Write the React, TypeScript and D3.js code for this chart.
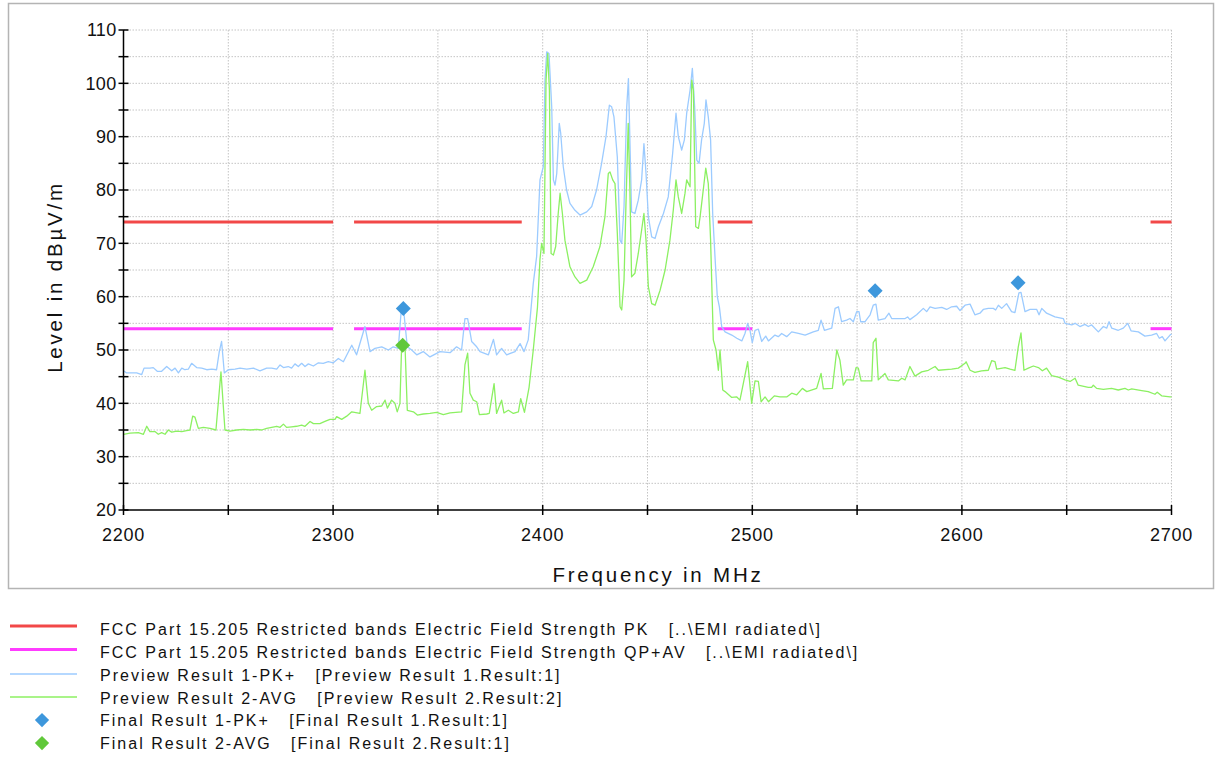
import React from "react"
import * as d3 from "d3"

// axis labels
const freqLabels = [2200, 2300, 2400, 2500, 2600, 2700]
const levelLabels = [20, 30, 40, 50, 60, 70, 80, 90, 100, 110]

// FCC 15.205 restricted bands inside the sweep
const restrictedBands = [[2200, 2300], [2310, 2390], [2483.5, 2500], [2690, 2700]]
const pkLimitLevel = 74
const avLimitLevel = 54

// Preview Result 1-PK+ (MHz, dBuV/m)
const pkPreview = [
  [2200, 46.1], [2201.5, 45.7], [2206.3, 45.7], [2208.7, 45.4], [2209.8, 46.6], [2212.6, 46.6],
  [2214.2, 46.7], [2216.1, 46.0], [2218.2, 46.0], [2220.6, 46.9], [2223, 46.1], [2224.6, 46.6],
  [2226.2, 45.7], [2227.8, 46.6], [2229.3, 46.3], [2230.9, 46.4], [2232.5, 47.5], [2234.9, 46.7],
  [2237.3, 46.6], [2239.7, 46.3], [2242.1, 46.4], [2244.4, 46.3], [2245.7, 49.7], [2246.8, 51.6],
  [2248.1, 45.7], [2250, 46.3], [2253.2, 46.4], [2255.6, 46.6], [2258.8, 46.4], [2262, 46.6],
  [2265.1, 46.1], [2268.3, 46.6], [2270.7, 46.6], [2273.1, 46.4], [2274.7, 47.2], [2276.3, 46.7],
  [2278.6, 46.9], [2280.2, 46.6], [2281.8, 47.4], [2283.4, 46.9], [2285, 47.5], [2286.6, 46.9],
  [2288.2, 47.4], [2290.6, 47.0], [2293, 47.6], [2295.3, 47.5], [2297.7, 47.8], [2300.1, 47.6],
  [2302.5, 48.4], [2304.9, 47.8], [2308.9, 50.9], [2311.2, 49.1], [2315.2, 54.4], [2317.6, 49.7],
  [2320, 50.3], [2323.2, 50.6], [2326.4, 50.0], [2328.7, 50.6], [2331.1, 50.3], [2332.4, 56.9],
  [2333.8, 56.9], [2335.4, 50.6], [2337.5, 50.0], [2339.9, 49.1], [2343, 49.7], [2346.2, 48.7],
  [2351, 49.7], [2355.8, 49.5], [2358.9, 50.6], [2361.3, 50.0], [2362.9, 55.9], [2364.2, 55.9],
  [2366.1, 51.6], [2368.5, 50.6], [2370.1, 49.7], [2374.1, 49.1], [2376.5, 52.0], [2378, 49.1],
  [2380.4, 50.3], [2382.8, 49.1], [2386.8, 49.7], [2389.2, 51.2], [2391.1, 49.7], [2393.1, 51.9],
  [2395.5, 62.5], [2397.1, 67.5], [2398.7, 81.9], [2400.3, 84.4], [2401.1, 100.6], [2401.9, 105.9],
  [2403, 105.6], [2404.3, 95.6], [2405.1, 81.9], [2405.9, 80.9], [2406.7, 83.1], [2407.9, 92.5],
  [2408.6, 90.6], [2409.8, 84.4], [2411.4, 80.0], [2413, 77.5], [2415.4, 76.2], [2417.8, 75.3],
  [2421, 75.9], [2423.4, 76.9], [2425.7, 80.0], [2428.1, 85.0], [2430.2, 90.0], [2431.8, 95.9],
  [2432.9, 95.6], [2434, 93.7], [2435.6, 86.2], [2436.9, 70.6], [2437.7, 70.0], [2438.8, 76.9],
  [2440.1, 95.6], [2440.9, 100.9], [2441.6, 89.4], [2442.4, 75.9], [2444, 75.6], [2445.6, 78.1],
  [2447.2, 81.9], [2448.3, 88.7], [2449.3, 83.1], [2450.4, 75.0], [2452, 71.2], [2453.6, 70.9],
  [2455.2, 73.1], [2457.6, 75.6], [2459.9, 78.7], [2462, 86.9], [2463.6, 94.4], [2464.7, 90.0],
  [2466.3, 87.5], [2467.6, 89.4], [2468.7, 94.4], [2470.3, 98.7], [2471.4, 102.8], [2472.5, 95.6],
  [2473.5, 85.6], [2474.6, 85.0], [2475.8, 89.4], [2477.1, 92.5], [2477.9, 96.9], [2479, 93.7],
  [2480.1, 89.4], [2481.1, 75.6], [2482.2, 67.5], [2483.3, 60.0], [2484.3, 58.1], [2485.4, 54.4],
  [2487, 53.4], [2490.2, 52.8], [2492.6, 52.2], [2495, 51.7], [2496.5, 53.1], [2497.8, 55.0],
  [2498.9, 53.7], [2500, 51.4], [2501.3, 53.7], [2502.9, 53.9], [2504.5, 51.6], [2506.4, 52.6],
  [2507.7, 51.7], [2510.8, 52.8], [2512.4, 52.5], [2514, 53.1], [2516.4, 52.5], [2518.8, 53.4],
  [2522, 53.1], [2525.2, 52.8], [2529.1, 53.4], [2531.5, 53.7], [2532.8, 55.6], [2534.4, 53.7],
  [2537.9, 54.1], [2539.5, 57.8], [2541.1, 58.1], [2542.6, 55.3], [2545, 55.6], [2546.6, 55.9],
  [2548.2, 55.3], [2549.8, 57.2], [2550.9, 57.2], [2551.7, 55.3], [2553.8, 55.3], [2556.2, 56.6],
  [2557.7, 58.4], [2559, 58.6], [2560.1, 55.6], [2563.3, 55.9], [2565.2, 56.9], [2566.5, 55.9],
  [2572.9, 55.9], [2574.1, 56.2], [2575.2, 55.7], [2578.4, 56.6], [2581.6, 57.8], [2583.2, 57.2],
  [2584.8, 58.1], [2587.2, 57.8], [2590.4, 58.0], [2592.7, 57.6], [2595.1, 58.1], [2597.5, 58.2],
  [2599.1, 57.4], [2601.5, 58.4], [2603.9, 58.6], [2606.2, 56.6], [2608.6, 56.9], [2610.2, 57.6],
  [2612.6, 57.8], [2615, 57.8], [2616.1, 57.5], [2617.4, 58.4], [2619, 57.8], [2621.3, 58.7],
  [2623.7, 57.2], [2625.3, 57.0], [2627.2, 60.7], [2628.2, 60.8], [2630.1, 57.2], [2632.5, 57.6],
  [2635.7, 57.6], [2636.8, 56.6], [2638.1, 57.8], [2640.4, 56.9], [2644.4, 56.2], [2648.4, 55.9],
  [2649.2, 55.0], [2652.4, 54.7], [2654, 55.0], [2656.3, 54.4], [2658.7, 54.8], [2660.3, 54.4],
  [2661.9, 54.7], [2665.1, 53.4], [2667.5, 54.4], [2669.1, 54.1], [2670.2, 55.3], [2671.5, 54.1],
  [2674.6, 53.7], [2677, 54.1], [2679.1, 55.0], [2680.7, 53.6], [2684.2, 53.4], [2687.3, 52.6],
  [2690.5, 52.8], [2692.9, 53.1], [2694.2, 52.2], [2695.6, 52.5], [2696.9, 51.7], [2699.3, 52.8],
  [2700, 53.0],
]

// Preview Result 2-AVG
const avgPreview = [
  [2200, 34.2], [2203.1, 34.4], [2207.1, 34.5], [2209.5, 34.2], [2211.1, 35.7], [2212.6, 34.7],
  [2215, 34.7], [2216.6, 34.2], [2218.2, 34.5], [2219.8, 34.2], [2221.4, 35.0], [2223, 34.6],
  [2225.4, 34.8], [2227.8, 34.7], [2230.1, 34.9], [2231.7, 35.0], [2233, 37.6], [2234.1, 37.4],
  [2235.7, 35.3], [2238.1, 35.5], [2241.3, 35.3], [2244.1, 35.0], [2246.5, 45.9], [2248.4, 35.0],
  [2250.8, 34.8], [2254, 35.0], [2257.2, 35.1], [2260.4, 35.0], [2263.5, 35.1], [2265.9, 35.0],
  [2268.3, 35.3], [2270.7, 35.5], [2273.1, 35.7], [2274.7, 35.5], [2276.3, 36.1], [2277.8, 35.5],
  [2280.2, 35.6], [2282.6, 35.7], [2285, 35.9], [2286.6, 35.7], [2289, 36.6], [2290.6, 36.2],
  [2293.7, 36.2], [2296.1, 36.6], [2298.5, 37.0], [2300.9, 37.0], [2301.7, 37.5], [2304.1, 37.0],
  [2306.5, 37.6], [2308.9, 38.4], [2312.8, 38.1], [2315.2, 46.2], [2316.8, 40.0], [2318.4, 38.7],
  [2320.8, 39.4], [2323.2, 39.5], [2324.8, 40.6], [2325.9, 39.1], [2327.9, 40.6], [2329.5, 40.0],
  [2330.6, 38.4], [2331.9, 40.0], [2332.7, 50.9], [2334.3, 50.9], [2335.4, 38.7], [2338.3, 38.4],
  [2340.2, 37.8], [2343, 38.0], [2346.2, 38.1], [2349.4, 38.3], [2352.6, 37.9], [2355.8, 38.2],
  [2361.3, 38.4], [2362.9, 47.2], [2364.2, 49.4], [2365.3, 41.9], [2366.9, 40.6], [2368.5, 40.3],
  [2369.8, 37.9], [2373.3, 38.0], [2374.5, 38.1], [2376.8, 43.7], [2378, 38.1], [2380.4, 40.6],
  [2381.5, 38.2], [2383.6, 38.7], [2386, 38.1], [2388.4, 38.4], [2389.5, 40.9], [2391.3, 38.3],
  [2393.5, 43.0], [2395.5, 50.0], [2397.5, 58.0], [2398.7, 67.0], [2399.5, 70.0], [2400.6, 68.1],
  [2401.6, 100.6], [2402.4, 105.6], [2403.2, 98.7], [2404, 68.1], [2405.1, 67.8], [2406.2, 69.4],
  [2407.4, 75.6], [2408.3, 79.4], [2409.4, 75.6], [2410.6, 70.6], [2413, 65.6], [2415.4, 63.7],
  [2417.8, 62.5], [2421, 63.1], [2424.1, 65.6], [2427.3, 69.4], [2429.7, 75.0], [2431.3, 83.1],
  [2432.1, 83.4], [2433.4, 81.9], [2434.5, 81.2], [2435.6, 71.9], [2436.9, 58.1], [2437.7, 57.5],
  [2438.8, 63.1], [2439.7, 76.9], [2440.8, 92.5], [2441.6, 80.0], [2442.4, 63.7], [2444, 64.4],
  [2445.6, 68.1], [2447.2, 72.5], [2448.3, 75.6], [2449.3, 70.6], [2450.4, 61.9], [2452, 58.7],
  [2453.6, 58.4], [2456, 61.2], [2458.4, 65.0], [2460.7, 70.6], [2462.3, 76.2], [2463.6, 81.9],
  [2464.7, 78.7], [2466.3, 75.6], [2467.9, 79.4], [2468.7, 81.9], [2470.3, 80.6], [2471.1, 100.6],
  [2471.9, 98.7], [2473, 73.1], [2474.3, 72.8], [2475.1, 75.0], [2476.6, 80.0], [2477.8, 84.1],
  [2479, 81.2], [2480.1, 70.6], [2481.4, 51.9], [2482.7, 50.0], [2483.8, 46.2], [2484.6, 50.0],
  [2485.9, 42.5], [2487, 42.2], [2490.2, 41.1], [2492.6, 41.2], [2494.1, 40.6], [2495.7, 43.7],
  [2497.8, 47.8], [2499.7, 40.0], [2501.3, 44.2], [2502.9, 44.1], [2504.2, 40.3], [2506.1, 41.2],
  [2507.7, 40.3], [2510.5, 41.4], [2513.2, 41.2], [2516.4, 41.2], [2518.8, 41.9], [2521.2, 41.6],
  [2523.9, 42.8], [2526, 42.2], [2530.7, 42.8], [2532.8, 45.6], [2533.9, 42.7], [2538.2, 42.8],
  [2540.3, 50.0], [2541.8, 48.1], [2543.4, 43.4], [2545, 44.4], [2548.2, 44.4], [2549.5, 46.7],
  [2550.6, 46.6], [2551.9, 44.2], [2557, 44.2], [2557.7, 51.4], [2559, 52.2], [2560.1, 44.4],
  [2563.3, 45.6], [2564.9, 44.4], [2569.7, 44.2], [2571.3, 44.7], [2572.9, 44.4], [2575.2, 46.9],
  [2577.6, 45.1], [2580.8, 45.9], [2584, 46.2], [2587.2, 46.9], [2588.8, 46.2], [2595.1, 46.4],
  [2598.3, 46.6], [2601.5, 47.5], [2602, 47.8], [2603.9, 46.2], [2606.2, 45.8], [2609.4, 46.1],
  [2612.6, 46.2], [2614.2, 48.0], [2615.8, 47.8], [2616.6, 46.4], [2620.6, 46.7], [2623, 46.4],
  [2625.3, 46.2], [2626.9, 50.6], [2628.2, 53.2], [2629.6, 46.2], [2631.7, 46.6], [2634.1, 47.0],
  [2636.5, 46.7], [2638.4, 46.1], [2640.4, 46.6], [2642.8, 45.2], [2646, 44.9], [2649.2, 44.4],
  [2651.6, 44.1], [2654, 44.7], [2655.5, 43.4], [2660.3, 43.0], [2661.9, 43.0], [2662.7, 43.4],
  [2664.3, 42.8], [2667.5, 42.6], [2671.4, 42.8], [2674.6, 42.5], [2677.8, 42.8], [2679.4, 42.5],
  [2681, 42.7], [2685.8, 42.4], [2688.9, 42.2], [2692.1, 41.7], [2693.2, 42.1], [2695.3, 41.4],
  [2699.3, 41.2], [2700, 41.2],
]

// final measurements
const pkFinal = [[2333.5, 57.8], [2558.6, 61.1], [2626.8, 62.6]]
const avgFinal = [[2333.2, 50.9]]

const legendLabels = [
  "FCC Part 15.205 Restricted bands Electric Field Strength PK   [..\\EMI radiated\\]",
  "FCC Part 15.205 Restricted bands Electric Field Strength QP+AV   [..\\EMI radiated\\]",
  "Preview Result 1-PK+   [Preview Result 1.Result:1]",
  "Preview Result 2-AVG   [Preview Result 2.Result:2]",
  "Final Result 1-PK+   [Final Result 1.Result:1]",
  "Final Result 2-AVG   [Final Result 2.Result:1]",
]

const RED = "#f24848"
const MAGENTA = "#ff3cff"
const BLUE_LINE = "#9ccbff"
const GREEN_LINE = "#8cf062"
const BLUE_MARK = "#3d97dc"
const GREEN_MARK = "#60c83a"
const FONT = "'Liberation Sans', Arial, sans-serif"

const diamond = "M0,-7.5L7.5,0L0,7.5L-7.5,0Z"

export default function App() {
  const x = d3.scaleLinear().domain([2200, 2700]).range([123.5, 1171.5])
  const y = d3.scaleLinear().domain([20, 110]).range([510, 30])
  const line = d3.line<number[]>().x(d => x(d[0])).y(d => y(d[1]))

  const hGrid = d3.range(25, 111, 5)
  const vGrid = d3.range(2250, 2701, 50)
  const yMinor = d3.range(25, 110, 10)
  const xTicks = d3.range(2200, 2701, 50)

  const legendStyles = [
    { kind: "line", color: RED, width: 3 },
    { kind: "line", color: MAGENTA, width: 3 },
    { kind: "line", color: BLUE_LINE, width: 1.3 },
    { kind: "line", color: GREEN_LINE, width: 1.3 },
    { kind: "mark", color: BLUE_MARK, width: 0 },
    { kind: "mark", color: GREEN_MARK, width: 0 },
  ]
  const legendSymbolY = [626, 649.5, 674, 697, 720, 743]
  const legendTextY = [629.5, 652.5, 675.5, 698, 720.5, 743.5]

  return (
    <svg width={1216} height={758} style={{ position: "absolute", left: 0, top: 0, background: "#fff" }}
      fontFamily={FONT}>
      <rect x={8.5} y={3.5} width={1205} height={585} fill="#fff" stroke="#b4b4b4" strokeWidth={1.5} />

      {/* grid */}
      <g stroke="#c4c4c4" strokeWidth={1} strokeDasharray="1.5,1.5">
        {hGrid.map(v => <line key={"h" + v} x1={x(2200)} x2={x(2700)} y1={y(v)} y2={y(v)} />)}
        {vGrid.map(f => <line key={"v" + f} x1={x(f)} x2={x(f)} y1={y(110)} y2={y(20)} />)}
      </g>

      {/* limit lines */}
      {restrictedBands.map((b, i) => (
        <g key={"lim" + i} strokeWidth={3}>
          <line x1={x(b[0])} x2={x(b[1])} y1={y(pkLimitLevel)} y2={y(pkLimitLevel)} stroke={RED} />
          <line x1={x(b[0])} x2={x(b[1])} y1={y(avLimitLevel)} y2={y(avLimitLevel)} stroke={MAGENTA} />
        </g>
      ))}

      {/* traces */}
      <path d={line(pkPreview) ?? ""} fill="none" stroke={BLUE_LINE} strokeWidth={1.3} strokeLinejoin="round" />
      <path d={line(avgPreview) ?? ""} fill="none" stroke={GREEN_LINE} strokeWidth={1.3} strokeLinejoin="round" />

      {/* final results */}
      {pkFinal.map((d, i) => (
        <path key={"pf" + i} d={diamond} transform={`translate(${x(d[0])},${y(d[1])})`} fill={BLUE_MARK} />
      ))}
      {avgFinal.map((d, i) => (
        <path key={"af" + i} d={diamond} transform={`translate(${x(d[0])},${y(d[1])})`} fill={GREEN_MARK} />
      ))}

      {/* axes */}
      <g stroke="#000" strokeWidth={1.5}>
        <line x1={x(2200)} x2={x(2200)} y1={y(110)} y2={y(20)} />
        <line x1={x(2200)} x2={x(2700)} y1={y(20)} y2={y(20)} />
        {levelLabels.concat(yMinor).map(v => (
          <line key={"yt" + v} x1={x(2200) - 5} x2={x(2200) + 5} y1={y(v)} y2={y(v)} />
        ))}
        {xTicks.map(f => (
          <line key={"xt" + f} x1={x(f)} x2={x(f)} y1={y(20) - 5} y2={y(20) + 5} />
        ))}
      </g>
      <g fontSize={18} fill="#111">
        {levelLabels.map(v => (
          <text key={"yl" + v} x={x(2200) - 7} y={y(v)} dy="0.35em" textAnchor="end" letterSpacing={0.3}>{v}</text>
        ))}
        {freqLabels.map(f => (
          <text key={"xl" + f} x={x(f)} y={y(20) + 31} textAnchor="middle" letterSpacing={0.8}>{f}</text>
        ))}
      </g>
      <text x={658} y={582} fontSize={20.5} textAnchor="middle" letterSpacing={2.8} fill="#111">Frequency in MHz</text>
      <text transform="translate(62,277) rotate(-90)" fontSize={20.5} textAnchor="middle" letterSpacing={2.8} fill="#111">
        Level in dBµV/m
      </text>

      {/* legend */}
      {legendLabels.map((label, i) => {
        const st = legendStyles[i]
        return (
          <g key={"lg" + i}>
            {st.kind === "line"
              ? <line x1={10} x2={77} y1={legendSymbolY[i]} y2={legendSymbolY[i]} stroke={st.color} strokeWidth={st.width} />
              : <path d={diamond} transform={`translate(42,${legendSymbolY[i]}) scale(0.95)`} fill={st.color} />}
            <text x={100} y={legendTextY[i]} dy="0.35em" fontSize={16} letterSpacing={2} fill="#111"
              style={{ whiteSpace: "pre" }}>{label}</text>
          </g>
        )
      })}
    </svg>
  )
}
